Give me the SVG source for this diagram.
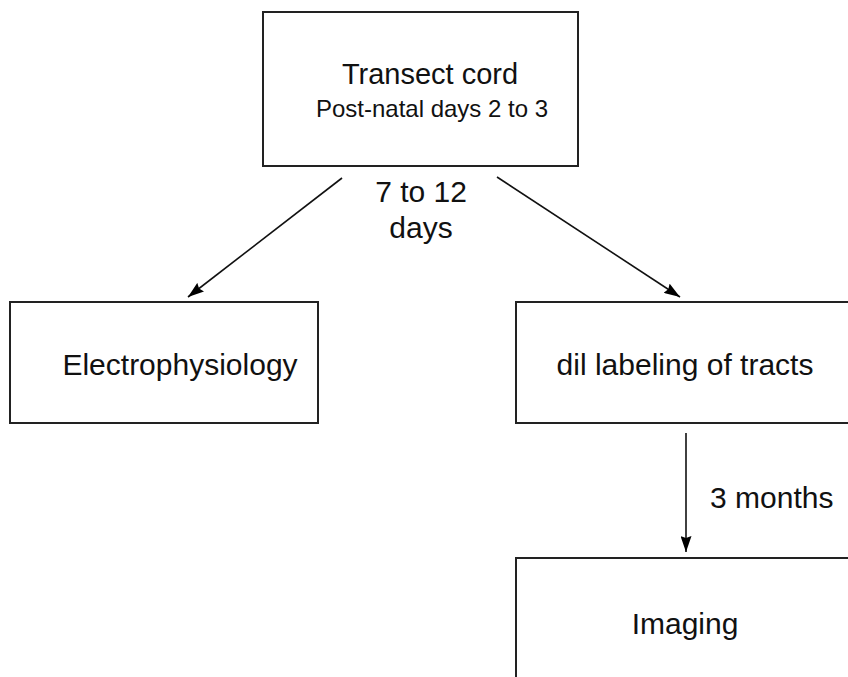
<svg xmlns="http://www.w3.org/2000/svg" width="848" height="677" viewBox="0 0 848 677">
<defs>
<marker id="arr" viewBox="0 0 16 11" refX="16" refY="5.5" markerWidth="16" markerHeight="11" markerUnits="userSpaceOnUse" orient="auto"><path d="M0,0 L16,5.5 L0,11 L2,5.5 z" fill="#000"/></marker>
<style>
.box{fill:#fff;stroke:#222;stroke-width:2}
.t{font-family:"Liberation Sans",Arial,sans-serif;fill:#111;text-anchor:middle;font-size:30px}
.c{stroke:#111;stroke-width:1.6;fill:none;marker-end:url(#arr)}
</style>
</defs>
<rect width="848" height="677" fill="#fff"/>
<g id="connectors">
<line class="c" x1="342" y1="178" x2="188" y2="297"/>
<line class="c" x1="497" y1="177" x2="680" y2="297"/>
<line class="c" x1="686" y1="433" x2="686" y2="552"/>
<text class="t" x="421" y="202">7 to 12</text>
<text class="t" x="421" y="238">days</text>
<text class="t" x="710" y="508" style="text-anchor:start">3 months</text>
</g>
<g id="transect">
<rect class="box" x="263" y="12" width="315" height="154"/>
<text class="t" x="430" y="84" font-size="29" style="font-size:29px">Transect cord</text>
<text class="t" x="432" y="117" style="font-size:24px">Post-natal days 2 to 3</text>
</g>
<g id="electro">
<rect class="box" x="10" y="302" width="308" height="121"/>
<text class="t" x="180" y="375">Electrophysiology</text>
</g>
<g id="dil">
<rect class="box" x="516" y="302" width="340" height="121"/>
<text class="t" x="685" y="375">dil labeling of tracts</text>
</g>
<g id="imaging">
<rect class="box" x="516" y="558" width="340" height="130"/>
<text class="t" x="685" y="634">Imaging</text>
</g>
</svg>
